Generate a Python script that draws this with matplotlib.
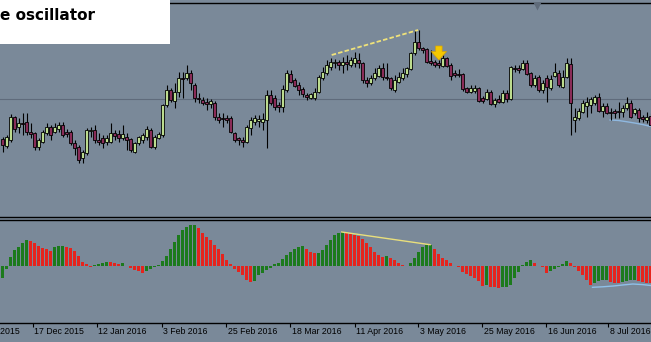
import matplotlib
matplotlib.use("Agg")
import matplotlib.pyplot as plt
from matplotlib.patches import Rectangle
from matplotlib.lines import Line2D
import matplotlib.transforms as mtransforms

# ---------------- data (price units are arbitrary chart units) ----------------
opens = [81, 74, 80, 103, 93, 97, 98, 88, 87, 73, 78, 87, 93, 88, 91, 95, 88, 88, 77, 73,
         62, 67, 89, 90, 80, 82, 78, 78, 87, 86, 82, 83, 81, 68, 77, 80, 83, 90, 73, 82,
         85, 115, 130, 119, 128, 142, 142, 147, 135, 122, 120, 118, 116, 117, 103, 102, 102, 102, 87, 82,
         80, 78, 92, 98, 99, 98, 100, 125, 122, 115, 113, 130, 146, 140, 135, 131, 125, 122, 122, 128,
         142, 147, 153, 157, 158, 155, 158, 155, 157, 160, 157, 140, 137, 142, 144, 152, 143, 142, 130, 138,
         142, 146, 151, 167, 178, 172, 171, 159, 158, 157, 154, 162, 155, 147, 146, 146, 132, 128, 129, 132,
         122, 121, 128, 116, 121, 118, 127, 121, 152, 152, 151, 157, 147, 135, 143, 130, 142, 132, 144, 147,
         133, 143, 156, 100, 102, 108, 114, 115, 117, 123, 109, 114, 108, 109, 109, 108, 112, 117, 107, 110,
         103, 100, 104]
highs = [83, 85, 106, 104, 102, 107, 107, 97, 88, 82, 90, 97, 95, 97, 98, 98, 91, 90, 80, 75,
         70, 92, 93, 95, 87, 85, 85, 97, 90, 90, 95, 87, 82, 78, 84, 87, 94, 92, 85, 88,
         116, 135, 132, 137, 148, 148, 155, 150, 137, 127, 123, 122, 121, 119, 107, 107, 105, 104, 88, 83,
         83, 95, 103, 105, 105, 107, 130, 130, 125, 118, 135, 150, 150, 142, 138, 133, 127, 127, 132, 145,
         153, 160, 162, 161, 160, 163, 165, 163, 168, 167, 158, 143, 145, 152, 155, 157, 157, 143, 145, 148,
         152, 153, 168, 190, 190, 173, 172, 170, 160, 160, 165, 163, 157, 150, 151, 147, 133, 135, 135, 133,
         124, 131, 130, 122, 125, 130, 130, 154, 155, 155, 160, 160, 148, 145, 145, 140, 145, 145, 157, 150,
         150, 162, 162, 112, 112, 120, 123, 123, 125, 127, 117, 117, 112, 111, 118, 115, 123, 120, 112, 112,
         105, 108, 107]
lows = [68, 72, 78, 88, 87, 85, 85, 82, 70, 70, 77, 85, 80, 87, 88, 83, 83, 75, 65, 57,
        57, 65, 83, 77, 75, 72, 75, 77, 80, 78, 80, 70, 68, 67, 75, 77, 80, 72, 71, 81,
        83, 113, 118, 112, 123, 122, 140, 130, 118, 117, 115, 110, 112, 100, 97, 93, 97, 87, 78, 75,
        73, 77, 85, 95, 93, 90, 72, 115, 110, 108, 108, 128, 137, 133, 125, 123, 120, 121, 120, 127,
        140, 145, 150, 152, 150, 147, 150, 153, 153, 152, 137, 133, 135, 140, 143, 140, 140, 130, 128, 137,
        140, 143, 150, 165, 170, 167, 157, 155, 153, 152, 153, 153, 140, 143, 143, 129, 127, 127, 127, 118,
        117, 120, 115, 113, 117, 117, 118, 120, 148, 147, 150, 145, 133, 133, 128, 127, 118, 130, 143, 133,
        132, 142, 85, 88, 100, 107, 103, 107, 115, 108, 103, 106, 100, 102, 102, 103, 110, 102, 105, 98,
        98, 97, 93]
closes = [75, 83, 103, 91, 97, 96, 88, 86, 73, 80, 88, 93, 85, 93, 95, 85, 86, 77, 72, 60,
          68, 90, 90, 80, 78, 77, 82, 87, 84, 82, 86, 80, 70, 77, 83, 85, 91, 73, 83, 86,
          115, 130, 120, 128, 142, 141, 147, 137, 122, 121, 117, 116, 119, 103, 100, 101, 100, 88, 80, 80,
          78, 93, 100, 102, 101, 101, 125, 117, 113, 113, 131, 147, 138, 134, 130, 126, 123, 126, 128, 143,
          148, 155, 158, 158, 155, 158, 156, 160, 162, 157, 140, 137, 142, 147, 152, 143, 142, 132, 140, 143,
          147, 152, 167, 178, 172, 170, 158, 157, 155, 155, 162, 154, 144, 145, 145, 131, 128, 132, 132, 119,
          119, 128, 116, 120, 118, 127, 121, 153, 151, 150, 157, 146, 135, 142, 130, 137, 133, 141, 148, 135,
          143, 157, 117, 103, 109, 117, 118, 121, 123, 109, 114, 107, 107, 107, 108, 112, 117, 103, 111, 102,
          101, 103, 95]

# Awesome oscillator histogram values
ao = [-12, -3, 9.3, 16, 19, 22.7, 26, 25, 22.7, 20, 18.3, 16.7, 15.3, 19.3, 20.3, 20.5, 19.3, 17.7, 15, 10,
      4.3, 2, -0.7, 0.7, 1.7, 3.3, 4.3, 3.7, 2.7, 2, 3, -0.3, -2.3, -4, -5, -6.7, -4.7, -3.3, -1.3, 1,
      5.3, 10, 16.7, 24.3, 31, 36, 39.3, 41, 41.3, 37.7, 33.3, 29.3, 26, 21, 16.7, 12, 6, 1.7, -3.3, -5.7,
      -9, -14, -15.7, -14.7, -9, -6.7, -4, -2.3, 2, 3.3, 6.7, 11, 14.3, 16.7, 18.7, 20, 16.7, 14.3, 12.7, 13,
      16.5, 21.3, 26, 31, 33.3, 34, 33.3, 32, 31, 30, 26.7, 22.7, 18.7, 14.3, 11, 8.7, 10, 7.7, 6, 3.3,
      1, 0.3, 3.3, 7.7, 14.3, 18.7, 20.7, 21.3, 16.7, 12, 7.7, 6, 3.3, -0.3, -1.3, -5.7, -8, -10, -12.3, -14.7,
      -20, -19, -20.7, -21.3, -22.3, -21.3, -21, -19, -12.3, -5.7, 1, 4.3, 6, 3.3, -0.3, -1.3, -7, -5, -3.3, -1.3,
      2, 5.3, 3.3, -1.3, -4.7, -9, -14, -19, -16.7, -14.7, -14, -13.8, -15.7, -16.7, -17.3, -15.7, -14.7, -14, -13.8, -14.7,
      -15.7, -16.7, -17.3]

tick_bars = [7.5, 23.6, 39.75, 55.9, 71.9, 88.0, 103.9, 119.9, 135.9, 151.4]
tick_labels = ["17 Dec 2015", "12 Jan 2016", "3 Feb 2016", "25 Feb 2016", "18 Mar 2016",
               "11 Apr 2016", "3 May 2016", "25 May 2016", "16 Jun 2016", "8 Jul 2016"]
prev_tick_bar = -8.6
prev_tick_label = "25 Nov 2015"

level_price = 120.7
trend_top_bars = [82.3, 103.9]
trend_top_prices = [165, 190]
trend_ao_bars = [84.8, 106.9]
trend_ao_values = [34, 21.3]
ma_bars = [151.9, 154, 156, 158, 160, 162.1]
ma_prices = [100, 99.5, 98.3, 97, 95.5, 93.5]
sig_bars = [147.5, 150, 152.7, 155, 157.6, 160, 162.1]
sig_values = [-21.3, -20.8, -20, -19, -18, -18.6, -19.5]
arrow_bar, arrow_top, arrow_bottom = 109.1, 174, 160
shift_marker_bar = 133.6
title_text = "e oscillator"

# ---------------- styling ----------------
W, H = 651, 342
bg = "#7a8999"
bull_body = "#bcdc8e"
bear_body = "#8a2c58"
ao_up = "#1c7a1c"
ao_dn = "#e5241d"

fig = plt.figure(figsize=(W / 100, H / 100), dpi=100, facecolor=bg)


def fy(px):
    return 1 - px / H


ax = fig.add_axes([0, fy(217), 1, (217 - 3) / H])
ax2 = fig.add_axes([0, fy(323), 1, (323 - 220) / H])
n = len(opens)
xs = list(range(n))
for a in (ax, ax2):
    a.set_facecolor(bg)
    a.set_xlim(-0.625, 162.125)
    for s in a.spines.values():
        s.set_visible(False)
    a.set_yticks([])

ax.set_ylim(3, 217)
ax.set_xticks([])
ax.spines["top"].set_visible(True)
ax.spines["top"].set_color("black")
ax.spines["top"].set_linewidth(1.0)

# level line
ax.axhline(level_price, color="#5f6b7b", lw=0.8, zorder=1)
# moving-average like light blue line
ax.plot(ma_bars, ma_prices, color="#8fb8e0", lw=1.0, zorder=1.5)

# candles
ax.vlines(xs, lows, highs, color="black", lw=0.8, zorder=2)
bottoms = [min(o, c) for o, c in zip(opens, closes)]
heights = [max(abs(c - o), 0.8) for o, c in zip(opens, closes)]
cols = [bull_body if c >= o else bear_body for o, c in zip(opens, closes)]
ax.bar(xs, heights, bottom=bottoms, width=0.7, color=cols, edgecolor="black",
       linewidth=0.6, zorder=3)

# trend line (dashed yellow)
ax.plot(trend_top_bars, trend_top_prices, color="#efe27a", lw=1.3, ls=(0, (2.5, 1.2)), zorder=4)

# signal arrow
ax.annotate("", xy=(arrow_bar, arrow_bottom), xytext=(arrow_bar, arrow_top),
            arrowprops=dict(arrowstyle="simple,head_width=1.0,head_length=0.55,tail_width=0.42",
                            facecolor="#f5c800", edgecolor="#d9a400", lw=0.5,
                            mutation_scale=11, shrinkA=0, shrinkB=0), zorder=5)

# shift marker
ax.plot([shift_marker_bar], [214.5], marker="v", ms=6, color="#5f6b7a", mec="none",
        clip_on=False, zorder=5)

# ---------------- oscillator ----------------
ax2.set_ylim(-57, 46)
ao_cols = [ao_up] + [ao_up if ao[i] > ao[i - 1] else ao_dn for i in range(1, len(ao))]
ax2.plot(sig_bars, sig_values, color="#8fc0e8", lw=1.0, zorder=1)
ax2.bar(xs, ao, width=0.74, color=ao_cols, linewidth=0, zorder=2)
ax2.plot(trend_ao_bars, trend_ao_values, color="#e9df7c", lw=1.0, zorder=3)

ax2.spines["bottom"].set_visible(True)
ax2.spines["bottom"].set_color("black")
ax2.spines["bottom"].set_linewidth(1.0)
ax2.set_xticks(tick_bars)
ax2.set_xticklabels([])
ax2.tick_params(axis="x", direction="out", length=3, width=0.8, color="black")

trans = mtransforms.blended_transform_factory(ax2.transData, ax2.transAxes) + \
    mtransforms.ScaledTranslation(0.016, -0.085, fig.dpi_scale_trans)
for b, lab in zip([prev_tick_bar] + tick_bars, [prev_tick_label] + tick_labels):
    ax2.text(b, 0, lab, transform=trans, ha="left", va="center", fontsize=6.3,
             family="Liberation Sans", color="black", clip_on=False)

# separators
for ypx in (217.4, 219.6):
    fig.add_artist(Line2D([0, 1], [fy(ypx), fy(ypx)], transform=fig.transFigure,
                          color="black", lw=1.0, zorder=6))

# white title box
fig.add_artist(Rectangle((0, fy(44)), 170 / W, 44 / H, transform=fig.transFigure,
                         facecolor="white", edgecolor="none", zorder=7))
fig.text(0.0, fy(19.5), title_text, ha="left", va="baseline", fontsize=11,
         fontweight="bold", family="DejaVu Sans", color="black", zorder=8)

fig.savefig("out.png", dpi=100, facecolor=bg)
